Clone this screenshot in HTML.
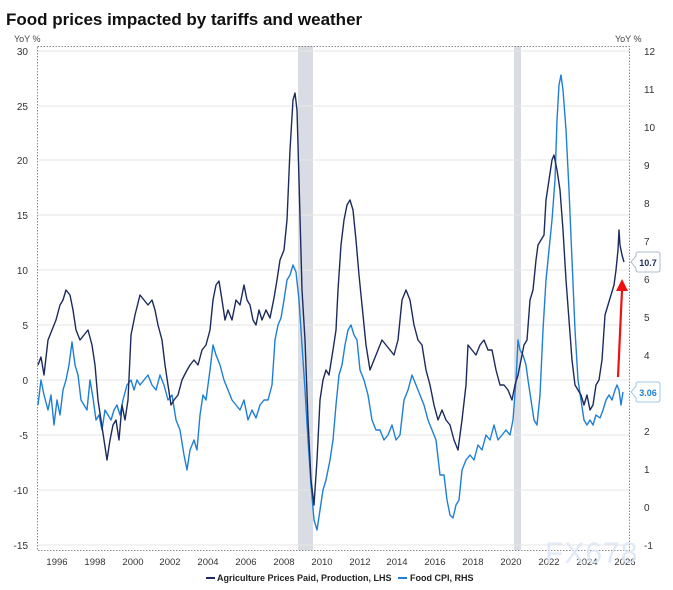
<!DOCTYPE html>
<html><head><meta charset="utf-8"><style>
body{margin:0;background:#fff;font-family:"Liberation Sans",Arial,sans-serif}
</style></head><body>
<svg width="673" height="585" viewBox="0 0 673 585" xmlns="http://www.w3.org/2000/svg" font-family="Liberation Sans, Arial, sans-serif">
<text x="6" y="25" font-size="17" font-weight="bold" fill="#111">Food prices impacted by tariffs and weather</text>
<text x="14" y="42" font-size="9" fill="#444">YoY %</text>
<text x="615" y="42" font-size="9" fill="#444">YoY %</text>
<!-- recession -->
<rect x="298" y="46" width="15" height="504" fill="#d9dde3"/>
<rect x="514" y="46" width="7" height="504" fill="#d9dde3"/>
<!-- grid -->
<g stroke="#e6e6e6" stroke-width="1">
<line x1="38" x2="630" y1="51" y2="51"/><line x1="38" x2="630" y1="106" y2="106"/>
<line x1="38" x2="630" y1="160" y2="160"/><line x1="38" x2="630" y1="215" y2="215"/>
<line x1="38" x2="630" y1="270" y2="270"/><line x1="38" x2="630" y1="325" y2="325"/>
<line x1="38" x2="630" y1="380" y2="380"/><line x1="38" x2="630" y1="435" y2="435"/>
<line x1="38" x2="630" y1="490" y2="490"/><line x1="38" x2="630" y1="545" y2="545"/>
</g>
<rect x="37.5" y="46.5" width="592" height="504" fill="none" stroke="#888" stroke-dasharray="1.5,1.5"/>
<g font-size="10" fill="#333" text-anchor="end">
<text x="28" y="55">30</text><text x="28" y="110">25</text><text x="28" y="164">20</text>
<text x="28" y="219">15</text><text x="28" y="274">10</text><text x="28" y="329">5</text>
<text x="28" y="384">0</text><text x="28" y="439">-5</text><text x="28" y="494">-10</text><text x="28" y="549">-15</text>
</g>
<g font-size="10" fill="#333">
<text x="644" y="55">12</text><text x="644" y="93">11</text><text x="644" y="131">10</text>
<text x="644" y="169">9</text><text x="644" y="207">8</text><text x="644" y="245">7</text>
<text x="644" y="283">6</text><text x="644" y="321">5</text><text x="644" y="359">4</text>
<text x="644" y="397">3</text><text x="644" y="435">2</text><text x="644" y="473">1</text>
<text x="644" y="511">0</text><text x="644" y="549">-1</text>
</g>
<g font-size="9.5" fill="#333" text-anchor="middle">
<text x="57" y="565">1996</text><text x="95" y="565">1998</text><text x="133" y="565">2000</text>
<text x="170" y="565">2002</text><text x="208" y="565">2004</text><text x="246" y="565">2006</text>
<text x="284" y="565">2008</text><text x="322" y="565">2010</text><text x="360" y="565">2012</text>
<text x="397" y="565">2014</text><text x="435" y="565">2016</text><text x="473" y="565">2018</text>
<text x="511" y="565">2020</text><text x="549" y="565">2022</text><text x="587" y="565">2024</text>
<text x="625" y="565">2026</text>
</g>
<polyline fill="none" stroke="#1f7fd6" stroke-width="1.4" stroke-linejoin="round" points="38,405 41,380 44,395 48,410 51,395 54,425 57,400 60,415 63,390 66,380 69,365 72,342 75,365 78,375 81,400 84,405 87,410 90,380 93,398 96,420 99,415 102,430 105,410 108,415 111,420 114,410 117,405 120,415 123,400 127,385 131,380 134,390 137,380 140,385 144,380 148,375 152,385 156,390 160,375 164,385 168,400 172,395 176,420 180,430 184,455 187,470 190,450 194,440 197,450 200,415 203,395 206,400 210,370 213,345 216,355 220,365 224,380 228,390 232,400 236,405 240,410 244,400 248,420 252,410 256,418 260,405 264,400 268,400 272,385 275,340 278,325 281,318 284,300 287,280 290,275 293,265 296,272 299,300 302,345 305,390 308,440 311,485 314,520 317,530 320,510 323,490 326,480 330,460 333,440 336,405 339,375 342,365 345,345 348,330 351,325 354,335 357,340 360,370 364,380 368,395 372,420 376,430 380,430 384,440 388,435 392,425 396,440 400,435 404,400 408,390 412,375 416,385 420,395 424,405 428,420 432,430 436,440 440,475 444,475 447,500 450,515 453,518 456,505 459,500 462,470 466,460 470,455 474,460 478,445 482,450 486,435 490,440 494,425 498,440 502,435 506,430 510,435 513,420 516,380 518,340 520,350 523,355 526,365 528,380 531,400 534,420 537,425 540,395 543,330 546,280 549,250 552,220 555,180 557,120 559,85 561,75 563,90 566,130 569,190 572,260 575,330 578,380 581,400 584,420 587,425 590,420 593,425 596,415 600,418 603,410 606,400 609,395 612,400 615,390 617,385 619,390 621,405 623,392"/>
<polyline fill="none" stroke="#1c2b5e" stroke-width="1.4" stroke-linejoin="round" points="38,365 41,357 44,375 48,340 52,330 56,320 60,305 63,300 66,290 70,295 73,310 76,330 80,340 84,335 88,330 92,345 95,365 98,400 101,420 104,440 107,460 110,440 113,425 116,420 119,440 122,405 125,420 128,400 131,335 135,315 140,295 144,300 148,305 152,300 155,310 158,325 162,340 165,365 168,385 171,405 174,400 178,395 182,380 186,372 190,365 194,360 198,365 202,350 206,345 210,330 213,300 216,285 219,281 222,300 225,320 228,310 232,320 236,300 240,305 244,285 247,300 250,305 253,320 256,325 259,310 262,320 266,310 270,318 274,298 277,280 280,260 284,250 287,220 290,150 293,100 295,93 297,110 299,180 302,290 305,340 308,420 311,480 314,505 317,460 320,400 323,380 326,370 329,375 333,350 336,330 338,290 341,245 344,220 347,205 350,200 353,210 356,240 359,275 362,305 366,345 370,370 374,360 378,350 382,340 386,345 390,350 394,355 398,340 402,300 406,290 410,300 414,325 418,340 422,345 426,370 430,385 434,405 438,420 442,410 446,420 450,425 454,440 458,450 462,420 466,385 468,345 472,350 476,355 480,345 484,340 488,350 492,350 496,370 500,385 504,385 508,390 512,400 515,385 518,375 521,360 524,345 527,340 530,300 533,290 536,260 538,245 541,240 544,235 546,200 549,180 552,160 554,155 557,170 560,190 563,230 566,280 569,320 572,360 575,385 578,390 581,395 584,405 587,395 590,410 593,405 596,385 599,380 602,360 605,315 608,305 611,295 614,285 616,270 618,250 619,230 620,245 622,255 624,262"/>
<!-- red arrow -->
<line x1="618" y1="377" x2="622" y2="290" stroke="#ee1111" stroke-width="2.2"/>
<polygon points="616,291 628,291 622,279" fill="#ee1111"/>
<!-- value labels -->
<path d="M631,262 L636,256 L636,254 Q636,252 638,252 L658,252 Q660,252 660,254 L660,270 Q660,272 658,272 L638,272 Q636,272 636,270 L636,268 Z" fill="#fff" stroke="#9ab" stroke-width="0.8"/>
<text x="648" y="266" font-size="9" font-weight="bold" fill="#1c2b5e" text-anchor="middle">10.7</text>
<path d="M631,392 L636,386 L636,384 Q636,382 638,382 L658,382 Q660,382 660,384 L660,400 Q660,402 658,402 L638,402 Q636,402 636,400 L636,398 Z" fill="#fff" stroke="#8bd" stroke-width="0.8"/>
<text x="648" y="396" font-size="9" font-weight="bold" fill="#1f7fd6" text-anchor="middle">3.06</text>
<!-- watermark -->
<text x="545" y="563" font-size="30" fill="#dbe6f5" opacity="0.85" letter-spacing="1">FX678</text>
<!-- legend -->
<line x1="206" y1="578" x2="215" y2="578" stroke="#1c2b5e" stroke-width="2"/>
<text x="217" y="581" font-size="9" font-weight="bold" fill="#222">Agriculture Prices Paid, Production, LHS</text>
<line x1="398" y1="578" x2="407" y2="578" stroke="#1f7fd6" stroke-width="2"/>
<text x="410" y="581" font-size="9" font-weight="bold" fill="#222">Food CPI, RHS</text>
</svg>
</body></html>
